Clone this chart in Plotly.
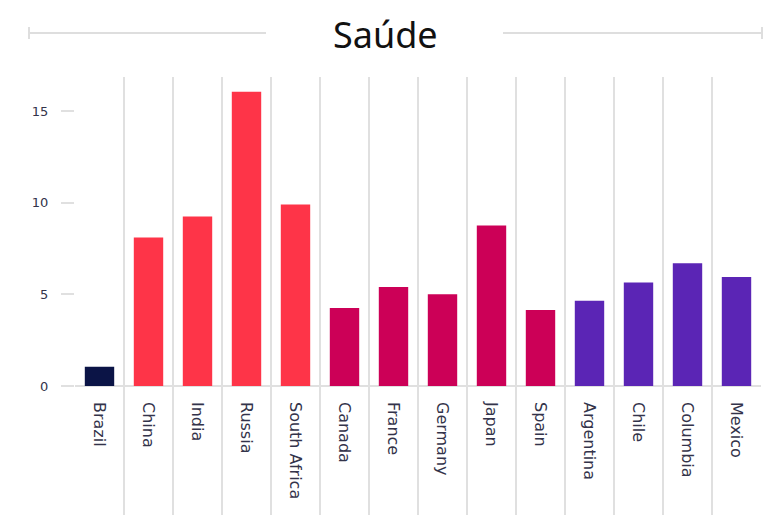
import plotly.graph_objects as go

countries = ["Brazil", "China", "India", "Russia", "South Africa", "Canada", "France",
             "Germany", "Japan", "Spain", "Argentina", "Chile", "Columbia", "Mexico"]
values = [1.05, 8.1, 9.25, 16.05, 9.9, 4.25, 5.4, 5.0, 8.75, 4.15, 4.65, 5.65, 6.7, 5.95]
groups = ["brazil", "brics", "brics", "brics", "brics", "dev", "dev",
          "dev", "dev", "dev", "latam", "latam", "latam", "latam"]
group_colors = {"brazil": "#0b1446", "brics": "#fe3448", "dev": "#cc0057", "latam": "#5b25b5"}
y_ticks = [0, 5, 10, 15]

OFF = 8  # page body margin
W, H = 763, 507
L, R, T, B = 75 - OFF, 10, 77 - OFF, 0
plot_h = H - T - B
zero_px = 386 - OFF
px_per_unit = (386 - 111) / 15.0
y_top = (zero_px - T) / px_per_unit
y_bot = -(H - B - zero_px) / px_per_unit

fig = go.Figure()
fig.add_trace(go.Bar(
    x=countries, y=values,
    marker=dict(color=[group_colors[g] for g in groups], line=dict(width=0)),
    hoverinfo="x+y",
))

grid_col = "#e0e0e0"
label_col = "#33334a"
fig.update_layout(
    width=W, height=H,
    margin=dict(l=L, r=R, t=T, b=B, autoexpand=False),
    paper_bgcolor="white", plot_bgcolor="white",
    bargap=0.4, showlegend=False,
    font=dict(family="DejaVu Sans, sans-serif", color=label_col),
    xaxis=dict(
        type="category", tickson="boundaries", showgrid=True, gridcolor=grid_col, gridwidth=2,
        ticks="", tickangle=90, tickfont=dict(size=16, color=label_col),
        anchor="free", position=(H - B - zero_px) / plot_h, showline=False,
        ticklabelstandoff=15, automargin=False, zeroline=False,
        range=[-0.5, len(countries) - 0.5],
    ),
    yaxis=dict(
        range=[y_bot, y_top], tickvals=y_ticks, showgrid=False,
        zeroline=True, zerolinecolor=grid_col, zerolinewidth=2,
        ticks="outside", ticklen=13, tickcolor=grid_col, tickwidth=2,
        tickfont=dict(size=13, color=label_col), showline=False, automargin=False,
        ticklabelstandoff=10,
    ),
)

# decorative title rules (page pixel positions)
def px_to_paper_x(px):
    return (px - OFF - L) / (W - L - R)

def px_to_paper_y(py):
    return (H - B - (py - OFF)) / plot_h

fig.add_annotation(text="Saúde", xref="paper", yref="paper",
                   x=px_to_paper_x(385), xanchor="center",
                   y=px_to_paper_y(OFF + 1), yanchor="top", showarrow=False,
                   borderpad=0,
                   font=dict(family="Noto Sans, Open Sans, sans-serif", size=36, color="#111111"))

line = dict(color="#dedede", width=2)
ly = px_to_paper_y(33)
for x0, x1 in [(29, 266), (503, 763)]:
    fig.add_shape(type="line", xref="paper", yref="paper",
                  x0=px_to_paper_x(x0), x1=px_to_paper_x(x1), y0=ly, y1=ly, line=line)
for xc in [29, 762]:
    fig.add_shape(type="line", xref="paper", yref="paper",
                  x0=px_to_paper_x(xc), x1=px_to_paper_x(xc),
                  y0=px_to_paper_y(27), y1=px_to_paper_y(39), line=line)

fig.write_html("out.html")
